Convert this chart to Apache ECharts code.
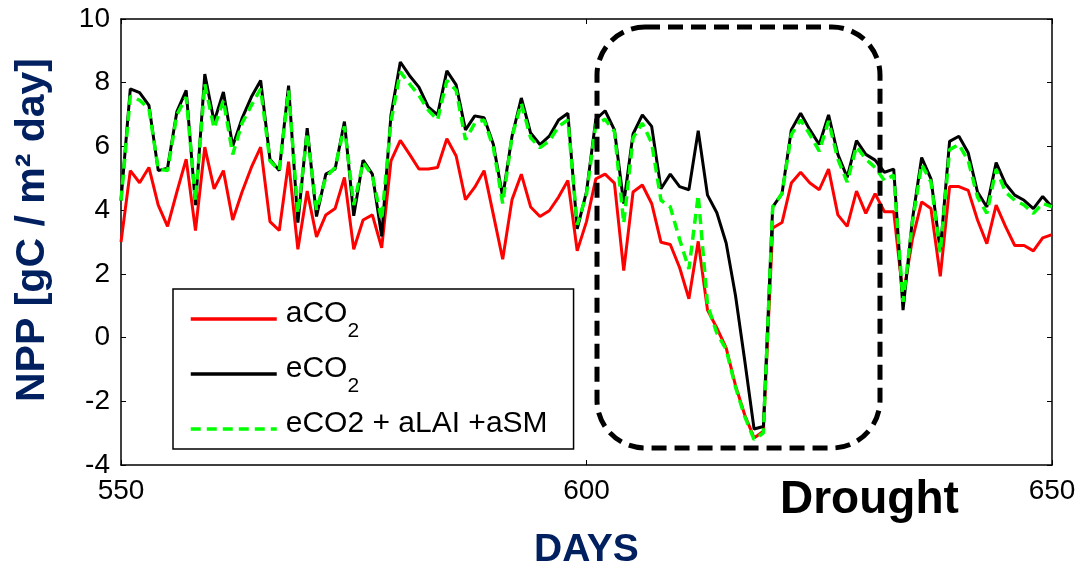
<!DOCTYPE html>
<html>
<head>
<meta charset="utf-8">
<title>NPP drought</title>
<script src="https://cdn.jsdelivr.net/npm/echarts@6/dist/echarts.min.js"></script>
<style>
  html, body { margin: 0; padding: 0; background: #fff; }
  #main { width: 1081px; height: 575px; }
</style>
</head>
<body>
<div id="main"></div>
<script>
// daily NPP values, day 550 .. 650
var firstDay = 550;

var aCO2 = [3.0, 5.24, 4.86, 5.34, 4.16, 3.49, 4.57, 5.6, 3.36, 5.98,
  4.67, 5.24, 3.69, 4.57, 5.34, 5.98, 3.64, 3.36, 5.52, 2.77,
  4.6, 3.16, 3.85, 4.05, 5.03, 2.77, 3.69, 3.85, 2.82, 5.55,
  6.19, 5.75, 5.29, 5.29, 5.34, 6.24, 5.7, 4.33, 4.72, 5.24,
  3.85, 2.46, 4.33, 5.13, 4.1, 3.8, 3.98, 4.41, 4.93, 2.72,
  3.64, 4.98, 5.13, 4.85, 2.1, 4.57, 4.79, 4.21, 2.99, 2.92,
  2.2, 1.22, 3.02, 0.86, 0.3, -0.32, -1.5, -2.43, -3.15, -2.94,
  3.44, 3.61, 4.85, 5.19, 4.85, 4.64, 5.29, 3.85, 3.49, 4.6,
  3.9, 4.52, 3.95, 3.95, 1.3, 3.08, 4.26, 4.05, 1.92, 4.74,
  4.74, 4.62, 3.69, 2.95, 4.16, 3.49, 2.89, 2.89, 2.72, 3.13,
  3.23];

var eCO2 = [4.3, 7.81, 7.69, 7.29, 5.24, 5.32, 7.09, 7.76, 4.16, 8.27,
  6.78, 7.71, 6.01, 6.88, 7.55, 8.07, 5.6, 5.24, 7.91, 3.61,
  6.57, 3.8, 5.13, 5.29, 6.78, 3.82, 5.57, 5.13, 3.18, 6.99,
  8.65, 8.22, 7.86, 7.24, 6.99, 8.37, 7.93, 6.52, 6.96, 6.9,
  6.06, 4.41, 6.32, 7.52, 6.42, 6.06, 6.32, 6.83, 7.04, 3.41,
  4.57, 6.85, 7.12, 6.52, 4.21, 6.39, 6.99, 6.63, 4.67, 5.13,
  4.74, 4.64, 6.49, 4.47, 3.92, 2.97, 1.33, -0.73, -2.87, -2.79,
  4.1, 4.52, 6.52, 7.04, 6.52, 6.06, 6.99, 5.75, 5.03, 6.18,
  5.75, 5.57, 5.19, 5.29, 0.86, 3.69, 5.65, 4.98, 2.72, 6.16,
  6.32, 5.8, 4.57, 4.1, 5.49, 4.83, 4.47, 4.31, 4.05, 4.43,
  4.1];

var eCO2aLAIaSM = [4.3, 7.58, 7.45, 7.19, 5.29, 5.24, 6.99, 7.55, 4.3, 7.96,
  6.57, 7.45, 5.75, 6.73, 7.29, 7.81, 5.55, 5.24, 7.76, 3.9,
  6.42, 4.0, 5.03, 5.34, 6.63, 4.16, 5.5, 5.08, 3.69, 6.78,
  8.34, 7.96, 7.6, 7.14, 6.83, 8.07, 7.76, 6.21, 6.73, 6.83,
  5.96, 4.21, 6.32, 7.35, 6.27, 5.96, 6.17, 6.63, 6.83, 3.54,
  4.5, 6.7, 6.85, 6.47, 3.59, 6.27, 6.73, 6.11, 4.31, 4.1,
  3.08, 2.15, 4.47, 1.02, 0.14, -0.37, -1.55, -2.48, -3.2, -2.99,
  4.1, 4.52, 6.37, 6.83, 6.37, 5.85, 6.8, 5.6, 4.88, 6.0,
  5.6, 5.34, 4.93, 5.1, 1.12, 3.59, 5.44, 4.88, 2.66, 5.9,
  6.06, 5.55, 4.41, 3.9, 5.29, 4.57, 4.31, 4.16, 3.9, 4.21,
  4.1];

var xTicks = [550, 600, 650];
var yTicks = [-4, -2, 0, 2, 4, 6, 8, 10];

var seriesNames = ['aCO2', 'eCO2', 'eCO2 + aLAI +aSM'];

var font = 'Liberation Sans, Arial, sans-serif';
var navy = '#002060';

function pairs(vals) {
  return vals.map(function (v, i) { return [firstDay + i, v]; });
}

var chart = echarts.init(document.getElementById('main'));

var axisLine = { show: true, onZero: false, lineStyle: { color: '#000', width: 1.5 } };
var tickIn = { show: true, inside: true, length: 5, lineStyle: { color: '#000' } };

var option = {
  backgroundColor: '#fff',
  animation: false,
  grid: { left: 121, right: 29, top: 19, bottom: 102 },
  xAxis: [{
    type: 'value',
    min: xTicks[0], max: xTicks[xTicks.length - 1],
    interval: xTicks[1] - xTicks[0],
    axisLine: axisLine, axisTick: tickIn,
    splitLine: { show: false },
    axisLabel: { fontSize: 28, color: '#000', fontFamily: font, margin: 12 },
    name: 'DAYS', nameLocation: 'middle', nameGap: 66,
    nameTextStyle: { fontSize: 39, fontWeight: 'bold', color: navy, fontFamily: font }
  }, {
    type: 'value', position: 'top',
    min: xTicks[0], max: xTicks[xTicks.length - 1],
    interval: xTicks[1] - xTicks[0],
    axisLine: axisLine, axisTick: tickIn,
    splitLine: { show: false }, axisLabel: { show: false }
  }],
  yAxis: [{
    type: 'value',
    min: yTicks[0], max: yTicks[yTicks.length - 1],
    interval: yTicks[1] - yTicks[0],
    axisLine: axisLine, axisTick: tickIn,
    splitLine: { show: false },
    axisLabel: { fontSize: 28, color: '#000', fontFamily: font, margin: 11 },
    name: 'NPP [gC / m\u00B2 day]', nameLocation: 'middle', nameGap: 68, nameRotate: 90,
    nameTextStyle: { fontSize: 41, fontWeight: 'bold', color: navy, fontFamily: font, padding: [0, 0, 0, 24] }
  }, {
    type: 'value', position: 'right',
    min: yTicks[0], max: yTicks[yTicks.length - 1],
    interval: yTicks[1] - yTicks[0],
    axisLine: axisLine, axisTick: tickIn,
    splitLine: { show: false }, axisLabel: { show: false }
  }],
  legend: {
    orient: 'vertical',
    left: 173, top: 289,
    padding: [10, 26, 10, 16],
    backgroundColor: '#fff',
    borderColor: '#000', borderWidth: 1.5,
    itemWidth: 86, itemHeight: 14, itemGap: 12,
    itemStyle: { opacity: 0 },
    lineStyle: { width: 3.5 },
    data: seriesNames,
    textStyle: {
      fontSize: 30, color: '#000', fontFamily: font, padding: [0, 0, 0, 4],
      rich: {
        m: { fontSize: 30, fontFamily: font, color: '#000', lineHeight: 40, verticalAlign: 'top' },
        s: { fontSize: 21, fontFamily: font, color: '#000', lineHeight: 40, padding: [22, 0, 0, 0], verticalAlign: 'top' }
      }
    },
    formatter: function (name) {
      if (name === 'aCO2' || name === 'eCO2') {
        return '{m|' + name.slice(0, -1) + '}{s|2}';
      }
      return '{m|' + name + '}';
    }
  },
  series: [{
    name: seriesNames[0], type: 'line', data: pairs(aCO2),
    symbol: 'none', lineStyle: { color: '#ff0000', width: 3 }, itemStyle: { color: '#ff0000' }, z: 2
  }, {
    name: seriesNames[1], type: 'line', data: pairs(eCO2),
    symbol: 'none', lineStyle: { color: '#000', width: 3 }, itemStyle: { color: '#000' }, z: 3
  }, {
    name: seriesNames[2], type: 'line', data: pairs(eCO2aLAIaSM),
    symbol: 'none', lineStyle: { color: '#00ff00', width: 3.5, type: [10, 6] }, itemStyle: { color: '#00ff00' }, z: 4
  }],
  graphic: [{
    type: 'rect', z: 10,
    shape: { x: 597, y: 27, width: 283, height: 421, r: 48 },
    style: { fill: 'none', stroke: '#000', lineWidth: 5, lineDash: [15, 8] }
  }, {
    type: 'text', z: 10,
    left: 780, top: 477,
    style: { text: 'Drought', fontSize: 46, fontWeight: 'bold', fill: '#000', fontFamily: font }
  }]
};

chart.setOption(option);
</script>
</body>
</html>
